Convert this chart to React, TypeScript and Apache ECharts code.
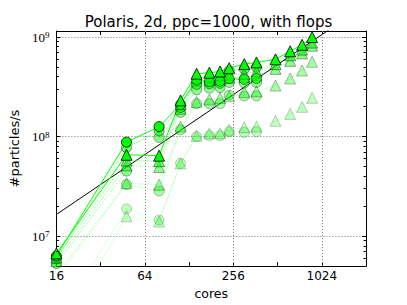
import React, { useEffect, useRef } from 'react';
import * as echarts from 'echarts';

const chartTitle = 'Polaris, 2d, ppc=1000, with flops';
const xName = 'cores';
const yName = '#particles/s';

const cores = [16, 48, 80, 112, 144, 176, 208, 240, 304, 368, 496, 624, 752, 880];

// triangles: one series per configuration (K1 = most opaque)
const triK1 = [6.7e6, 6.57e7, 6.43e7, 2.31e8, 4.28e8, 4.38e8, 4.51e8, 4.87e8, 5.35e8, 5.56e8, 5.98e8, 7.2e8, 8.36e8, 9.99e8];
const triK2 = [6.1e6, 5.75e7, 5.66e7, 2.11e8, 3.92e8, 3.98e8, 4.12e8, 4.19e8, 4.28e8, 4.51e8, 5.35e8, 6.55e8, 7.48e8, 8.8e8];
const triK3 = [5.6e6, 5.14e7, 4.95e7, 1.9e8, 3.6e8, 3.69e8, 3.75e8, 3.9e8, 4.0e8, 4.1e8, 4.79e8, 5.77e8, 6.84e8, 8.18e8];
const triK4 = [4.1e6, 3.4e7, 3.29e7, 1.26e8, 2.23e8, 2.36e8, 2.45e8, 2.54e8, 2.79e8, 2.85e8, 3.26e8, 3.83e8, 4.61e8, 5.64e8];
const triK5 = [8.7e5, 1.58e7, 1.4e7, 5.38e7, 1.02e8, 1.08e8, 1.08e8, 1.17e8, 1.24e8, 1.26e8, 1.44e8, 1.69e8, 1.99e8, 2.45e8];

// circles: measured up to 368 cores
const circK1 = [6.3e6, 8.79e7, 1.26e8, 2.1e8, 3.69e8, 3.56e8, 3.6e8, 3.83e8, 3.75e8, 3.83e8];
const circK2 = [5.9e6, 7.74e7, 1.14e8, 1.96e8, 3.35e8, 3.4e8, 3.43e8, 4.6e8, 4.78e8, 4.97e8];
const circK3 = [5.3e6, 4.5e7, 9.8e7, 1.75e8, 2.95e8, 3.06e8, 3.11e8, 3.5e8, 3.45e8, 3.5e8];
const circK4 = [3.8e6, 3.3e7, 2.84e7, 1.17e8, 2.14e8, 2.14e8, 2.14e8, 2.61e8, 2.55e8, 2.55e8];
const circK5 = [1.3e6, 1.88e7, 1.45e7, 5.38e7, 1.0e8, 1.02e8, 1.02e8, 1.12e8, 1.1e8, 1.12e8];

const idealCores = [16, 2048];
const idealRate = [1.65e7, 2.112e9];

const xTickLabels = [16, 64, 256, 1024];
const xGridValues = [64, 256, 1024];
const yMinorValues = [
  6e6, 7e6, 8e6, 9e6,
  2e7, 3e7, 4e7, 5e7, 6e7, 7e7, 8e7, 9e7,
  2e8, 3e8, 4e8, 5e8, 6e8, 7e8, 8e8, 9e8,
];

const triList = [triK1, triK2, triK3, triK4, triK5];
const circList = [circK1, circK2, circK3, circK4, circK5];
const alphas = [1, 0.55, 0.45, 0.35, 0.25];

const SANS = '"DejaVu Sans", sans-serif';
const SERIF = '"Liberation Serif", serif';

const X_MIN = 16;
const X_MAX = 2048;
const PX_PER_DOUBLING = 44.9;

function mkSeries(name: string, vals: number[], symbol: string, k: number) {
  const a = alphas[k];
  const dimLater = symbol === 'circle' && k === 0;
  return {
    type: 'line',
    name,
    data: vals.map((v, i) => {
      if (dimLater && i >= 3) {
        return { value: [cores[i], v], itemStyle: { opacity: 0.6 } };
      }
      return [cores[i], v];
    }),
    symbol,
    symbolSize: symbol === 'circle' ? 10 : 11,
    showSymbol: true,
    clip: true,
    itemStyle: { color: '#00ff00', borderColor: '#000000', borderWidth: 0.8, opacity: a },
    lineStyle: {
      color: '#00ff00',
      width: 1,
      type: k === 0 ? 'solid' : 'dotted',
      opacity: k === 0 ? 1 : a,
    },
    emphasis: { disabled: true },
  };
}

export default function App() {
  const ref = useRef<HTMLDivElement>(null);
  useEffect(() => {
    const chart = echarts.init(ref.current!, null, { renderer: 'svg' });
    const series: any[] = [];
    const tickLenFactor = Math.pow(2, 2.5 / PX_PER_DOUBLING);
    const minorTickLines: any[] = [];
    yMinorValues.forEach((v) => {
      minorTickLines.push([{ coord: [X_MIN, v] }, { coord: [X_MIN * tickLenFactor, v] }]);
      minorTickLines.push([{ coord: [X_MAX / tickLenFactor, v] }, { coord: [X_MAX, v] }]);
    });
    series.push({
      type: 'line',
      name: 'ideal',
      data: idealCores.map((c, i) => [c, idealRate[i]]),
      symbol: 'none',
      clip: true,
      lineStyle: { color: '#000', width: 1 },
      emphasis: { disabled: true },
      markLine: {
        silent: true,
        symbol: ['none', 'none'],
        label: { show: false },
        lineStyle: { color: '#777', type: [1, 2], width: 1 },
        data: xGridValues.map((v) => ({ xAxis: v })),
      },
    });
    series.push({
      type: 'line',
      name: 'minor',
      data: [],
      symbol: 'none',
      markLine: {
        silent: true,
        symbol: ['none', 'none'],
        label: { show: false },
        lineStyle: { color: '#000', type: 'solid', width: 1 },
        data: minorTickLines,
      },
    });
    for (let k = 4; k >= 0; k--) {
      series.push(mkSeries('circ' + (k + 1), circList[k], 'circle', k));
      series.push(mkSeries('tri' + (k + 1), triList[k], 'triangle', k));
    }
    const yLabel = (v: number) => {
      const e = Math.log10(v);
      const r = Math.round(e);
      if (Math.abs(e - r) > 1e-6) return '';
      return `{b|10}{e|${r}}`;
    };
    const baseX = {
      type: 'log',
      logBase: 2,
      min: X_MIN,
      max: X_MAX,
      axisLine: { show: true, lineStyle: { color: '#000', width: 1 } },
      axisTick: { show: true, inside: true, length: 4, lineStyle: { color: '#000' } },
      splitLine: { show: false },
      minorTick: { show: false },
    };
    const baseY = {
      type: 'log',
      logBase: 10,
      min: 5e6,
      max: 1.15e9,
      axisLine: { show: true, lineStyle: { color: '#000', width: 1 } },
      axisTick: { show: true, inside: true, length: 4, lineStyle: { color: '#000' } },
    };
    const option: any = {
      animation: false,
      backgroundColor: '#ffffff',
      grid: { left: 51, right: 41, top: 31, bottom: 32, containLabel: false },
      graphic: [
        {
          type: 'text',
          x: 208.5,
          y: 21.5,
          style: {
            text: chartTitle,
            font: '15px ' + SANS,
            fill: '#000',
            align: 'center',
            verticalAlign: 'middle',
            textAlign: 'center',
            textVerticalAlign: 'middle',
          },
        },
      ],
      xAxis: [
        {
          ...baseX,
          position: 'bottom',
          axisLabel: {
            color: '#000',
            fontSize: 12,
            fontFamily: SANS,
            margin: 4,
            alignMinLabel: 'center',
            alignMaxLabel: 'center',
            formatter: (v: number) => (xTickLabels.includes(Math.round(v)) ? String(Math.round(v)) : ''),
          },
          name: xName,
          nameLocation: 'middle',
          nameGap: 17,
          nameTextStyle: { color: '#000', fontSize: 12.5, fontFamily: SANS },
        },
        {
          ...baseX,
          position: 'top',
          axisLabel: { show: false },
        },
      ],
      yAxis: [
        {
          ...baseY,
          position: 'left',
          splitLine: { show: true, lineStyle: { color: '#777', type: [1, 2], width: 1 } },
          axisLabel: {
            color: '#000',
            margin: 7,
            formatter: yLabel,
            rich: {
              b: { fontFamily: SERIF, fontSize: 13, color: '#000', verticalAlign: 'bottom', lineHeight: 13 },
              e: { fontFamily: SERIF, fontSize: 9, color: '#000', verticalAlign: 'top', lineHeight: 9, padding: [0, 0, 5, 0] },
            },
          },
          name: yName,
          nameLocation: 'middle',
          nameGap: 31,
          nameRotate: 90,
          nameTextStyle: { color: '#000', fontSize: 13, fontFamily: SANS },
        },
        {
          ...baseY,
          position: 'right',
          splitLine: { show: false },
          axisLabel: { show: false },
        },
      ],
      series,
    };
    chart.setOption(option);
    return () => chart.dispose();
  }, []);
  return <div ref={ref} style={{ position: 'fixed', left: 0, top: 0, width: 407, height: 305 }} />;
}
